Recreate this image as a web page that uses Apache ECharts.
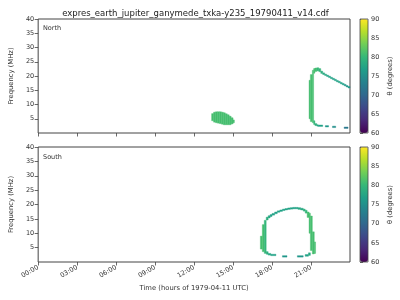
<!DOCTYPE html>
<html><head><meta charset="utf-8">
<script src="https://cdn.jsdelivr.net/npm/echarts@6/dist/echarts.min.js"></script>
<style>html,body{margin:0;padding:0;background:#fff}#c{width:400px;height:300px}</style>
</head><body><div id="c"></div>
<script>
// Time ticks (hours of day) and labels
const timeTicks = [0, 3, 6, 9, 12, 15, 18, 21];
const freqTicks = [5, 10, 15, 20, 25, 30, 35, 40];
const thetaTicks = [60, 65, 70, 75, 80, 85, 90];
// Emission segments: [tStart(h), tEnd(h), fLow(MHz), fHigh(MHz), theta(deg)]
const northBlob = [
  [13.35, 13.5, 4.3, 6.8, 81], [13.5, 13.65, 3.8, 7.3, 81], [13.65, 13.8, 3.6, 7.45, 81],
  [13.8, 13.95, 3.45, 7.45, 81], [13.95, 14.1, 3.3, 7.45, 81], [14.1, 14.25, 3.1, 7.3, 81],
  [14.25, 14.4, 2.9, 7.1, 81], [14.4, 14.55, 2.9, 6.75, 81], [14.55, 14.7, 2.9, 6.4, 81],
  [14.7, 14.85, 2.9, 5.9, 81], [14.85, 15.0, 3.2, 5.35, 81], [15.0, 15.1, 3.6, 4.6, 81]
];
const northArc = [
  [20.85, 20.95, 5.0, 18.5, 81], [20.95, 21.1, 4.0, 20.5, 81], [21.1, 21.2, 3.6, 22.0, 81],
  [21.2, 21.3, 21.0, 22.6, 81], [21.3, 21.45, 21.6, 22.8, 81], [21.45, 21.6, 21.8, 22.9, 80],
  [21.6, 21.75, 21.5, 22.6, 80], [21.75, 21.9, 20.9, 21.7, 79], [21.9, 22.05, 20.5, 21.1, 78],
  [22.05, 22.2, 20.15, 20.65, 78], [22.2, 22.35, 19.8, 20.3, 77], [22.35, 22.5, 19.45, 19.95, 77],
  [22.5, 22.65, 19.05, 19.55, 77], [22.65, 22.8, 18.7, 19.2, 77], [22.8, 22.95, 18.35, 18.85, 77],
  [22.95, 23.1, 17.95, 18.45, 77], [23.1, 23.25, 17.65, 18.15, 77], [23.25, 23.4, 17.25, 17.75, 77],
  [23.4, 23.55, 16.9, 17.4, 77], [23.55, 23.7, 16.55, 17.05, 76], [23.7, 23.85, 16.15, 16.65, 76],
  [23.85, 24.0, 15.8, 16.3, 76],
  [21.2, 21.3, 3.0, 4.3, 80], [21.3, 21.45, 2.6, 3.3, 79], [21.45, 21.55, 2.4, 2.9, 78],
  [21.55, 21.9, 2.3, 2.8, 77], [22.1, 22.35, 2.1, 2.6, 76], [22.65, 22.9, 1.9, 2.4, 75],
  [23.55, 23.85, 1.6, 2.1, 72]
];
const southLoop = [
  [17.1, 17.25, 4.5, 9.0, 81], [17.25, 17.4, 3.6, 13.0, 81], [17.4, 17.55, 3.0, 14.5, 80],
  [17.55, 17.7, 14.6, 15.6, 79], [17.7, 17.85, 15.3, 16.1, 78], [17.85, 18.0, 15.8, 16.5, 77],
  [18.0, 18.2, 16.3, 16.9, 77], [18.2, 18.4, 16.8, 17.4, 77], [18.4, 18.6, 17.3, 17.8, 77],
  [18.6, 18.8, 17.6, 18.1, 77], [18.8, 19.0, 17.9, 18.4, 77], [19.0, 19.2, 18.1, 18.6, 77],
  [19.2, 19.4, 18.3, 18.8, 77], [19.4, 19.6, 18.4, 18.9, 77], [19.6, 19.8, 18.5, 19.0, 77],
  [19.8, 20.0, 18.5, 19.0, 77], [20.0, 20.2, 18.3, 18.9, 78], [20.2, 20.4, 18.1, 18.7, 78],
  [20.4, 20.55, 17.7, 18.4, 79], [20.55, 20.7, 17.0, 18.0, 80], [20.7, 20.85, 15.5, 17.4, 81],
  [20.85, 20.95, 10.0, 17.0, 81], [20.95, 21.1, 4.0, 16.0, 81], [21.1, 21.25, 2.8, 10.5, 81],
  [21.25, 21.35, 3.0, 7.0, 81],
  [17.55, 17.7, 2.7, 3.6, 79], [17.7, 17.9, 2.4, 3.0, 78], [17.9, 18.3, 2.2, 2.7, 77],
  [18.8, 19.15, 1.7, 2.2, 76], [19.95, 20.4, 1.7, 2.2, 76], [20.55, 20.8, 2.0, 2.6, 77],
  [20.8, 20.95, 2.3, 3.2, 78]
];
const viridis = ['#440154','#482878','#3e4989','#31688e','#26828e','#1f9e89','#35b779','#6ece58','#b5de2b','#fde725'];

const FONT = 'DejaVu Sans';
const AX = '#444';
const chart = echarts.init(document.getElementById('c'), null, {renderer: 'canvas'});

const panels = [{top: 19, height: 114}, {top: 147, height: 115}];
const grids = [], xAxes = [], yAxes = [], series = [], visualMaps = [];
const hh = v => (v < 10 ? '0' : '') + v + ':00';

panels.forEach((p, i) => {
  grids.push({left: 31, top: p.top, width: 319, height: p.height, show: true, borderColor: AX, borderWidth: 1, backgroundColor: 'transparent'});
  xAxes.push({
    type: 'value', gridIndex: i, min: 0, max: 24, interval: 3,
    axisLine: {show: false}, splitLine: {show: false},
    axisTick: {show: true, length: 3.5, lineStyle: {color: AX, width: 0.8},
      customValues: timeTicks},
    axisLabel: {show: i === 1, rotate: 30, fontSize: 6.5, color: '#333', fontFamily: FONT,
      margin: 5, customValues: timeTicks, formatter: v => hh(v)},
    name: i === 1 ? 'Time (hours of 1979-04-11 UTC)' : '',
    nameLocation: 'middle', nameGap: 23,
    nameTextStyle: {fontSize: 6.8, color: '#333', fontFamily: FONT}
  });
  yAxes.push({
    type: 'value', gridIndex: i, min: 0, max: 40, interval: 5,
    axisLine: {show: false}, splitLine: {show: false},
    axisTick: {show: true, length: 3.5, lineStyle: {color: AX, width: 0.8}, customValues: freqTicks},
    axisLabel: {fontSize: 6.5, color: '#333', fontFamily: FONT, margin: 4, customValues: freqTicks},
    name: 'Frequency (MHz)', nameLocation: 'middle', nameGap: 19, nameRotate: 90,
    nameTextStyle: {fontSize: 6.8, color: '#333', fontFamily: FONT}
  });
});

// colorbar grids
panels.forEach((p, i) => {
  const gi = grids.length;
  grids.push({left: 360, top: p.top, width: 8, height: p.height, show: true, borderColor: AX, borderWidth: 0.8, backgroundColor: 'transparent', z: 10});
  xAxes.push({type: 'value', gridIndex: gi, min: 0, max: 1, show: false});
  yAxes.push({
    type: 'value', gridIndex: gi, min: 60, max: 90, interval: 5, position: 'right',
    axisLine: {show: false}, splitLine: {show: false},
    axisTick: {show: true, length: 3, lineStyle: {color: AX, width: 0.8}},
    axisLabel: {fontSize: 6.5, color: '#333', fontFamily: FONT, margin: 3, customValues: thetaTicks},
    name: 'θ (degrees)', nameLocation: 'middle', nameGap: 19, nameRotate: 90,
    nameTextStyle: {fontSize: 6.8, color: '#333', fontFamily: FONT}
  });
  series.push({type: 'scatter', xAxisIndex: gi, yAxisIndex: gi, data: [], silent: true});
});

function rectSeries(data, gi) {
  return {
    type: 'custom', xAxisIndex: gi, yAxisIndex: gi, data: data, clip: true,
    encode: {x: [0, 1], y: [2, 3]},
    renderItem: function (params, api) {
      const a = api.coord([api.value(0), api.value(3)]);
      const b = api.coord([api.value(1), api.value(2)]);
      const c = api.visual('color');
      return {type: 'rect', shape: {x: a[0], y: a[1], width: b[0] - a[0], height: b[1] - a[1]},
        style: {fill: c, stroke: c, lineWidth: 0.4}};
    }
  };
}
const s0 = series.length;
series.push(rectSeries(northBlob, 0));
series.push(rectSeries(northArc, 0));
series.push(rectSeries(southLoop, 1));

panels.forEach((p, i) => {
  visualMaps.push({
    type: 'continuous', min: 60, max: 90, dimension: 4, calculable: false,
    seriesIndex: i === 0 ? [s0, s0 + 1] : [s0 + 2],
    left: 360, top: p.top, itemWidth: 8, itemHeight: p.height, padding: 0,
    text: null, showLabel: false, inRange: {color: viridis}, hoverLink: false
  });
});

chart.setOption({
  animation: false,
  backgroundColor: '#fff',
  title: {text: 'expres_earth_jupiter_ganymede_txka-y235_19790411_v14.cdf', left: 190.5, textAlign: 'center', top: 4,
    textStyle: {fontSize: 8.5, fontWeight: 'normal', color: '#222', fontFamily: FONT}},
  grid: grids, xAxis: xAxes, yAxis: yAxes, series: series, visualMap: visualMaps,
  graphic: [
    {type: 'text', left: 43, top: 25, style: {text: 'North', fontSize: 6.5, fill: '#333', fontFamily: FONT}},
    {type: 'text', left: 43, top: 154, style: {text: 'South', fontSize: 6.5, fill: '#333', fontFamily: FONT}}
  ]
});
</script></body></html>
